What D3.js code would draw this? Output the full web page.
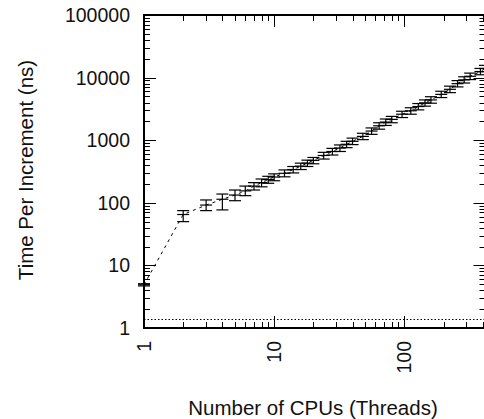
<!DOCTYPE html>
<html>
<head>
<meta charset="utf-8">
<script src="https://cdn.jsdelivr.net/npm/d3@7"></script>
<style>
  body { margin: 0; background: #fff; }
  svg { display: block; font-family: "Liberation Sans", Arial, sans-serif; }
</style>
</head>
<body>
<div id="chart"></div>
<script>
// data
const cpus = [1, 2, 3, 4, 5, 6, 7, 8, 9, 10, 12, 14, 16, 18, 20, 24, 28, 32, 36, 40,
  48, 56, 64, 72, 80, 96, 112, 128, 144, 160, 192, 224, 256, 288, 320, 384, 416];
const timeNs = [4.9, 65, 92, 114, 133, 155, 185, 210, 235, 258, 296, 340, 385, 430, 475,
  570, 660, 750, 860, 960, 1150, 1400, 1700, 1950, 2150, 2600, 2950, 3450, 3950, 4400,
  5400, 6500, 8000, 9200, 10500, 12500, 14000];
const timeLo = [4.7, 50, 75, 77, 108, 130, 160, 180, 205, 225, 260, 300, 340, 380, 420,
  500, 580, 660, 760, 850, 1020, 1240, 1500, 1720, 1900, 2300, 2600, 3050, 3500, 3900,
  4800, 5750, 7100, 8200, 9300, 11100, 12400];
const timeHi = [5.1, 75, 111, 138, 160, 185, 210, 240, 265, 290, 335, 380, 430, 480, 530,
  640, 740, 840, 960, 1080, 1290, 1570, 1900, 2180, 2400, 2900, 3300, 3850, 4400, 4950,
  6050, 7300, 8950, 10300, 11800, 14000, 15700];
const baseline = 1.4;
const xTicks = [1, 10, 100];
const yTicks = [1, 10, 100, 1000, 10000, 100000];

const data = cpus.map((c, i) => ({ x: c, y: timeNs[i], lo: timeLo[i], hi: timeHi[i] }));

const W = 484, H = 419;
const padL = 144, padR = 485.5, padT = 15, padB = 328;

const svg = d3.select('#chart').append('svg').attr('width', W).attr('height', H);

const x = d3.scaleLog().domain([1, 420]).range([padL, padR]);
const y = d3.scaleLog().domain([1, 100000]).range([padB, padT]);

// minor ticks
const xMinor = [];
for (let d = 1; d <= 100; d *= 10) for (let m = 2; m <= 9; m++) if (d * m <= 420) xMinor.push(d * m);
const yMinor = [];
for (let d = 1; d < 100000; d *= 10) for (let m = 2; m <= 9; m++) yMinor.push(d * m);

const ticks = svg.append('g').attr('stroke', '#000').attr('stroke-width', 1);

function hTicks(vals, len) {
  vals.forEach((v) => {
    const yy = Math.round(y(v)) + 0.5;
    ticks.append('line').attr('x1', padL).attr('x2', padL + len).attr('y1', yy).attr('y2', yy);
    ticks.append('line').attr('x1', padR).attr('x2', padR - len).attr('y1', yy).attr('y2', yy);
  });
}
function vTicks(vals, len) {
  vals.forEach((v) => {
    const xx = Math.round(x(v)) + 0.5;
    ticks.append('line').attr('x1', xx).attr('x2', xx).attr('y1', padB).attr('y2', padB - len);
    ticks.append('line').attr('x1', xx).attr('x2', xx).attr('y1', padT).attr('y2', padT + len);
  });
}
hTicks(yMinor, 6);
hTicks(yTicks, 12);
vTicks(xMinor, 6);
vTicks(xTicks, 12);

// dotted baseline
svg.append('line')
  .attr('x1', padL).attr('x2', padR)
  .attr('y1', Math.round(y(baseline)) + 0.5).attr('y2', Math.round(y(baseline)) + 0.5)
  .attr('stroke', '#000').attr('stroke-width', 1)
  .attr('stroke-dasharray', '1.5,2');

// dashed connecting line
const line = d3.line().x((d) => x(d.x)).y((d) => y(d.y));
svg.append('path')
  .datum(data)
  .attr('d', line)
  .attr('fill', 'none')
  .attr('stroke', '#000')
  .attr('stroke-width', 1)
  .attr('stroke-dasharray', '3,4');

// error bars with + points
const bars = svg.append('g').attr('stroke', '#000').attr('stroke-width', 1.2);
const g = bars.selectAll('g.pt').data(data).join('g').attr('class', 'pt');
g.append('line')
  .attr('x1', (d) => x(d.x)).attr('x2', (d) => x(d.x))
  .attr('y1', (d) => y(d.lo)).attr('y2', (d) => y(d.hi));
['lo', 'hi', 'y'].forEach((k) => {
  g.append('line')
    .attr('x1', (d) => x(d.x) - 6).attr('x2', (d) => x(d.x) + 6)
    .attr('y1', (d) => y(d[k])).attr('y2', (d) => y(d[k]));
});

// frame
svg.append('rect')
  .attr('x', padL).attr('y', padT)
  .attr('width', padR - padL).attr('height', padB - padT)
  .attr('fill', 'none').attr('stroke', '#000').attr('stroke-width', 2);

// labels
svg.selectAll('text.ylab').data(yTicks).join('text')
  .attr('class', 'ylab')
  .attr('x', 130).attr('y', (d) => y(d))
  .attr('dy', '0.36em')
  .attr('text-anchor', 'end')
  .attr('font-size', 19.5)
  .attr('fill', '#111')
  .text((d) => d);

svg.selectAll('text.xlab').data(xTicks).join('text')
  .attr('class', 'xlab')
  .attr('transform', (d) => `translate(${x(d)},341) rotate(-90)`)
  .attr('dy', '0.36em')
  .attr('text-anchor', 'end')
  .attr('font-size', 19.5)
  .attr('fill', '#111')
  .text((d) => d);

svg.append('text')
  .attr('x', 313).attr('y', 415)
  .attr('text-anchor', 'middle')
  .attr('font-size', 20.5)
  .attr('fill', '#111')
  .text('Number of CPUs (Threads)');

svg.append('text')
  .attr('transform', 'translate(33,170) rotate(-90)')
  .attr('text-anchor', 'middle')
  .attr('font-size', 20.5)
  .attr('fill', '#111')
  .text('Time Per Increment (ns)');
</script>
</body>
</html>
